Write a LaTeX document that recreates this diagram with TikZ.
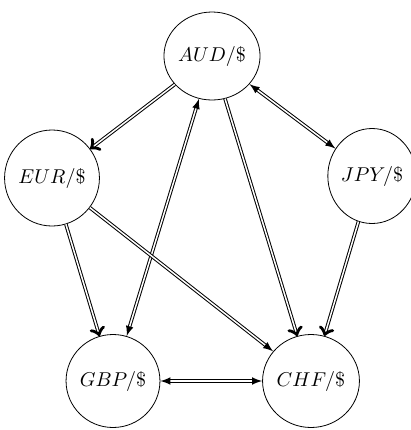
\documentclass[tikz,border=0pt]{standalone}
\usetikzlibrary{shapes.geometric,arrows}
\begin{document}
\begin{tikzpicture}[x=0.5pt,y=-0.5pt,
  cur/.style={ellipse,draw,inner sep=0pt,font=\normalsize},
  link/.style={double,line width=0.5pt,double distance=0.75pt}]
\useasboundingbox (0,0) rectangle (411,430);
\node[cur,minimum width=44pt,minimum height=44pt] (aud) at (212,56) {$AUD/\$$};
\node[cur,minimum width=44pt,minimum height=48pt] (eur) at (52,178) {$EUR/\$$};
\node[cur,minimum width=40pt,minimum height=47.5pt] (jpy) at (372,176) {$JPY/\$$};
\node[cur,minimum width=42.5pt,minimum height=46.5pt] (gbp) at (113,381) {$GBP/\$$};
\node[cur,minimum width=44pt,minimum height=46.5pt] (chf) at (311,381) {$CHF/\$$};
\draw[link,->] (aud) -- (eur);
\draw[link,latex-latex] (aud) -- (jpy);
\draw[link,latex-latex] (aud) -- (gbp);
\draw[link,->] (aud) -- (chf);
\draw[link,->] (eur) -- (gbp);
\draw[link,-latex] (eur) -- (chf);
\draw[link,->] (jpy) -- (chf);
\draw[link,latex-latex] (gbp.east) -- (chf.west);
\end{tikzpicture}
\end{document}
